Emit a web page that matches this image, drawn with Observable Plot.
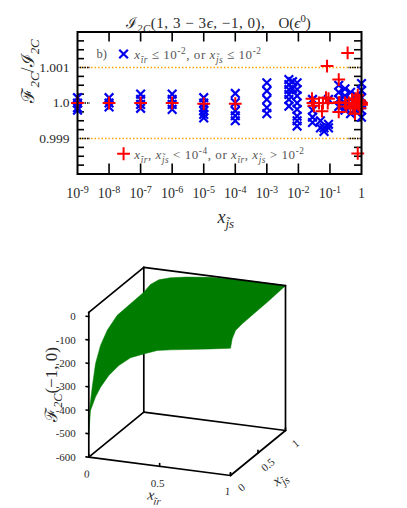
<!DOCTYPE html>
<html><head><meta charset="utf-8">
<script src="https://cdn.jsdelivr.net/npm/d3@7"></script>
<script src="https://cdn.jsdelivr.net/npm/@observablehq/plot@0.6"></script>
<style>html,body{margin:0;padding:0;background:#fff}svg{display:block;background:#fff}</style>
</head><body><div id="top"></div><div id="bottom"></div>
<script>
// ---- top panel data
const decadeTicks = [1e-9,1e-8,1e-7,1e-6,1e-5,1e-4,1e-3,1e-2,1e-1,1];
const decadeLabels = ["10^{-9}","10^{-8}","10^{-7}","10^{-6}","10^{-5}","10^{-4}","10^{-3}","10^{-2}","10^{-1}","1"];
const ratioMajor = [0.999,1.0,1.001];
const ratioMajorLabels = ["0.999","1.0","1.001"];
const ratioMinor = [0.99825,0.9985,0.99875,0.99925,0.9995,0.99975,1.00025,1.0005,1.00075,1.00125,1.0015,1.00175];
const blueColumns = [
 [1e-9,[1.00015,1.0,0.99987,0.9998]],
 [1e-8,[1.00015,1.0,0.99989]],
 [1e-7,[1.00025,1.0001,0.99996,0.99985]],
 [1e-6,[1.00025,1.0001,0.99996,0.99982]],
 [1e-5,[1.00015,1.0,0.99987,0.99978,0.99968,0.99958]],
 [1e-4,[1.00027,1.00001,0.99978,0.99964,0.9995]],
 [1e-3,[1.00057,1.00034,1.0001,0.99987,0.9997]],
 [0.005,[1.00066,1.00052,1.00038,1.00024,1.0001,0.99991]],
 [0.0065,[1.0006,1.0004]],
 [0.0091,[1.00057,1.00038,1.0002,1.0,0.99982,0.99963,0.9995,0.99935]],
 [0.028,[1.0001,0.9998,0.9996,0.99945]],
 [0.05,[0.9995,0.9993]],
 [0.065,[0.9993,0.9992]],
 [0.09,[1.0001,0.9994,0.9993]],
 [0.19,[1.0005,1.0003,1.0001,0.9999]],
 [0.3,[1.0004,1.0002,1.0,0.9998]],
 [0.45,[1.0003,1.0001,0.9999,0.9997]],
 [0.7,[1.0002,1.0,0.9998]],
 [1,[1.00055,1.00035,1.00015,0.99995,0.9998,0.9996]]
];
const redX = [1e-9,1e-8,1e-7,1e-6,1e-5,1e-4,0.027,0.029,0.031,0.045,0.056,0.06,0.075,0.085,0.09,0.081,0.19,0.19,0.19,0.2,0.3,0.33,0.363,0.4,0.45,0.5,0.55,0.6,0.62,0.65,0.7,0.76,0.76,0.8,0.85,0.9,0.95,1,1];
const redY = [1.0,1.0,1.0,1.0,0.99998,0.99998,1.00012,1.0,0.99992,1.0,0.99977,1.0,1.00015,1.0,1.00012,1.00104,1.00066,1.0,0.99975,1.00002,1.0,0.9999,1.00141,1.0,0.99985,1.0001,0.9999,1.0,0.9997,1.00012,1.0,1.00022,0.99858,0.99995,1.00008,0.99985,1.00002,1.0,0.99995];
// ---- bottom panel data: (xir, xjs, F) outline of the surface
const surfXir = [0,0,0,0,0,0,0,0,0,0.047,0.106,0.188,0.3,0.47,0.706,1,1,1,1,1,1,1,0.859,0.577,0.483,0.388,0.294,0.212,0.141,0.083,0.047,0.012,0];
const surfXjs = [0,0.018,0.062,0.122,0.213,0.335,0.516,0.758,1,1,1,1,1,1,1,1,0.667,0.424,0.213,0.091,0.031,0,0,0,0,0,0,0,0,0,0,0,0];
const surfF =   [-500,-390,-313,-225,-164,-123,-94,-91,-88,-51,-27,-12,0,12,18,18,11,9,6,1,-23,-57,-71,-97,-107,-129,-153,-192,-240,-295,-340,-400,-500];
const fTicks = [0,-100,-200,-300,-400,-500,-600];
const unitTicks = [0,0.5,1];
const fBottom = -600, fTop = 18;

// ---- helper: turns _{..} ^{..} and *..* markup into real tspans
function rich(svg){
  svg.querySelectorAll("text").forEach(t=>{
    const s=t.textContent;
    if(/[≤<]|ℐ_\{2C\}\(/.test(s))t.setAttribute("letter-spacing","0.55");
    if(!/[_^*]/.test(s))return;
    const fs=parseFloat(getComputedStyle(t).fontSize);
    t.textContent="";
    let pending=0;
    s.split(/(_\{[^}]*\}|\^\{[^}]*\}|\*[^*]+\*)/).filter(Boolean).forEach(p=>{
      const sp=document.createElementNS("http://www.w3.org/2000/svg","tspan");
      let dy=0;
      if(p[0]==="_"&&p[1]==="{"){dy=fs*0.28;sp.textContent=p.slice(2,-1);sp.setAttribute("font-size",fs*0.72);sp.setAttribute("font-style","italic");}
      else if(p[0]==="^"&&p[1]==="{"){dy=-fs*0.38;sp.textContent=p.slice(2,-1);sp.setAttribute("font-size",fs*0.72);}
      else if(p[0]==="*"){sp.textContent=p.slice(1,-1);sp.setAttribute("font-style","italic");}
      else sp.textContent=p;
      if(dy+pending!==0)sp.setAttribute("dy",dy+pending);
      pending=-dy;
      t.appendChild(sp);
    });
  });
}
const serif='"Liberation Serif",serif', ink="#2a2a2a";
const bluePts=blueColumns.flatMap(([x,ys])=>ys.map(y=>({x,y})));
const redPts=redX.map((x,i)=>({x,y:redY[i]}));
const lenX=px=>10**(px/31.55), lenY=px=>px*0.002/71;
const xmin=1e-9,xmax=1,ymin=0.998,ymax=1.002;
const mL=77, mT=31.5;

const topPlot=Plot.plot({
  width:407,height:240,marginLeft:mL,marginRight:46,marginTop:mT,marginBottom:66.5,style:{fontFamily:serif,background:"#fff",color:ink},
  x:{type:"log",domain:[xmin,xmax],axis:null},
  y:{domain:[ymin,ymax],axis:null},
  marks:[
    Plot.ruleY([0.999,1.001],{x1:xmin,x2:xmax,stroke:"orange",strokeWidth:1.5,strokeDasharray:"1.5,2"}),
    Plot.ruleX(decadeTicks.slice(1,-1),{x:d=>d,y1:ymin,y2:ymin+lenY(10),stroke:"#000",strokeWidth:1.6}),
    Plot.ruleX(decadeTicks.slice(1,-1),{x:d=>d,y1:ymax,y2:ymax-lenY(10),stroke:"#000",strokeWidth:1.6}),
    Plot.ruleY(ratioMinor,{x1:xmin,x2:xmin*lenX(7),stroke:"#000",strokeWidth:1.6}),
    Plot.ruleY(ratioMinor,{x1:xmax,x2:xmax/lenX(7),stroke:"#000",strokeWidth:1.6}),
    Plot.ruleY(ratioMajor,{x1:xmin,x2:xmin*lenX(13),stroke:"#000",strokeWidth:1.6,strokeDasharray:"1.5,1"}),
    Plot.ruleY(ratioMajor,{x1:xmax,x2:xmax/lenX(13),stroke:"#000",strokeWidth:1.6,strokeDasharray:"1.5,1"}),
    Plot.dot(bluePts,{x:"x",y:"y",symbol:"times",r:4,stroke:"#0000ee",strokeWidth:2.2}),
    Plot.dot(redPts,{x:"x",y:"y",symbol:"plus",r:4.2,stroke:"#f00",strokeWidth:2}),
    Plot.frame({stroke:"#000",strokeWidth:2}),
    Plot.axisX(decadeTicks,{anchor:"bottom",tickSize:0,tickPadding:14,fontSize:14,tickFormat:(d)=>decadeLabels[decadeTicks.indexOf(d)],label:null}),
    Plot.axisY(ratioMajor,{anchor:"left",tickSize:0,tickPadding:8,fontSize:13.5,tickFormat:d=>ratioMajorLabels[ratioMajor.indexOf(d)],label:null}),
    Plot.dot([0],{x:()=>10**-7.54,y:()=>1.00138,symbol:"times",r:4,stroke:"#0000ee",strokeWidth:2.2}),
    Plot.dot([0],{x:()=>10**-7.54,y:()=>0.99857,symbol:"plus",r:4.2,stroke:"#f00",strokeWidth:2}),
    Plot.text(["b)"],{x:()=>10**-8.4,y:()=>1.00139,fontSize:12.5,textAnchor:"start",fill:"#555"}),
    Plot.text(["*x*_{ĩr} ≤ 10^{-2}, or *x*_{j̃s} ≤ 10^{-2}"],{x:()=>10**-7.2,y:()=>1.00135,fontSize:13,textAnchor:"start",fill:"#555"}),
    Plot.text(["*x*_{ĩr}, *x*_{j̃s} < 10^{-4}, or *x*_{ĩr}, *x*_{j̃s} > 10^{-2}"],{x:()=>10**-7.2,y:()=>0.99854,fontSize:13,textAnchor:"start",fill:"#555"}),
    Plot.text(["ℐ_{2C}(1, 3 − 3*ϵ*, −1, 0),"],{frameAnchor:"top-left",dx:125-mL,dy:17-mT,fontSize:15,textAnchor:"start",fill:ink}),
    Plot.text(["O(*ϵ*^{0})"],{frameAnchor:"top-left",dx:278-mL,dy:17-mT,fontSize:15,textAnchor:"start",fill:ink}),
    Plot.text(["*x*_{j̃s}"],{frameAnchor:"top-left",dx:217-mL,dy:210-mT,fontSize:18,fill:ink}),
    Plot.text(["ℱ_{2C}/ℐ_{2C}"],{frameAnchor:"top-left",dx:21-mL,dy:102-mT,fontSize:18,rotate:-90,fill:ink})
  ]
});
document.getElementById("top").append(topPlot);rich(topPlot);

// oblique view of the unit box, expressed in the panel's own view units
const view=(xir,xjs,f)=>({vx:88.3+141.7*xir+55*xjs, vy:456.7+18.3*xir-45*xjs-(f-fBottom)*0.2344});
const seg=(a,b)=>[view(...a),view(...b)];
const edges=[
 [[0,0,fBottom],[0,0,fTop]],[[0,1,fBottom],[0,1,fTop]],[[1,1,fBottom],[1,1,fTop]],
 [[0,0,fTop],[0,1,fTop]],[[0,1,fTop],[1,1,fTop]],
 [[0,0,fBottom],[1,0,fBottom]],[[1,0,fBottom],[1,1,fBottom]],
 [[0,0,fBottom],[0,1,fBottom]],[[0,1,fBottom],[1,1,fBottom]]
].map(e=>seg(...e));
const surface=surfXir.map((a,i)=>view(a,surfXjs[i],surfF[i]));
const lineOf=(pts,o)=>Plot.line(pts,{x:"vx",y:"vy",...o});
const tick=(a,b)=>lineOf(seg(a,b),{stroke:"#000",strokeWidth:1.6});
const lab=(p,text,o)=>Plot.text([text],{x:()=>p.vx+(o.ox||0),y:()=>p.vy+(o.oy||0),fontSize:o.fs||11,rotate:o.rot||0,fill:ink,textAnchor:o.anchor||"middle"});
const bottomPlot=Plot.plot({
  width:407,height:268,margin:0,style:{fontFamily:serif,background:"#fff",color:ink},
  x:{domain:[0,407],axis:null},
  y:{domain:[508,240],axis:null},
  marks:[
    ...edges.slice(1,2).map(e=>lineOf(e,{stroke:"#000",strokeWidth:1.7})),
    lineOf(surface,{fill:"#007c00",stroke:"#007c00",strokeWidth:0.5}),
    ...edges.filter((e,i)=>i!==1).map(e=>lineOf(e,{stroke:"#000",strokeWidth:1.7})),
    ...fTicks.map(f=>tick([0,0,f],[-0.02,0,f])),
    ...unitTicks.map(u=>tick([u,0,fBottom],[u,0,fBottom+12])),
    ...unitTicks.map(u=>tick([1,u,fBottom],[1,u,fBottom+12])),
    ...fTicks.map(f=>lab(view(0,0,f),String(f),{ox:-13,anchor:"end"})),
    lab(view(0,0,fBottom),"0",{ox:-2,oy:17,rot:5}),
    lab(view(0.5,0,fBottom),"0.5",{ox:-2,oy:17,rot:0}),
    lab(view(1,0,fBottom),"1",{ox:-3,oy:16,rot:5}),
    lab(view(1,0,fBottom),"0",{ox:11,oy:12,rot:-40}),
    lab(view(1,0.5,fBottom),"0.5",{ox:10,oy:12,rot:-40}),
    lab(view(1,1,fBottom),"1",{ox:10,oy:13,rot:-40}),
    lab({vx:154,vy:495},"*x*_{ĩr}",{fs:15,rot:8}),
    lab({vx:279,vy:478},"*x*_{j̃s}",{fs:15,rot:-38}),
    lab({vx:51,vy:384},"ℱ_{2C}(−1, 0)",{fs:17,rot:-90})
  ]
});
document.getElementById("bottom").append(bottomPlot);rich(bottomPlot);
</script></body></html>
